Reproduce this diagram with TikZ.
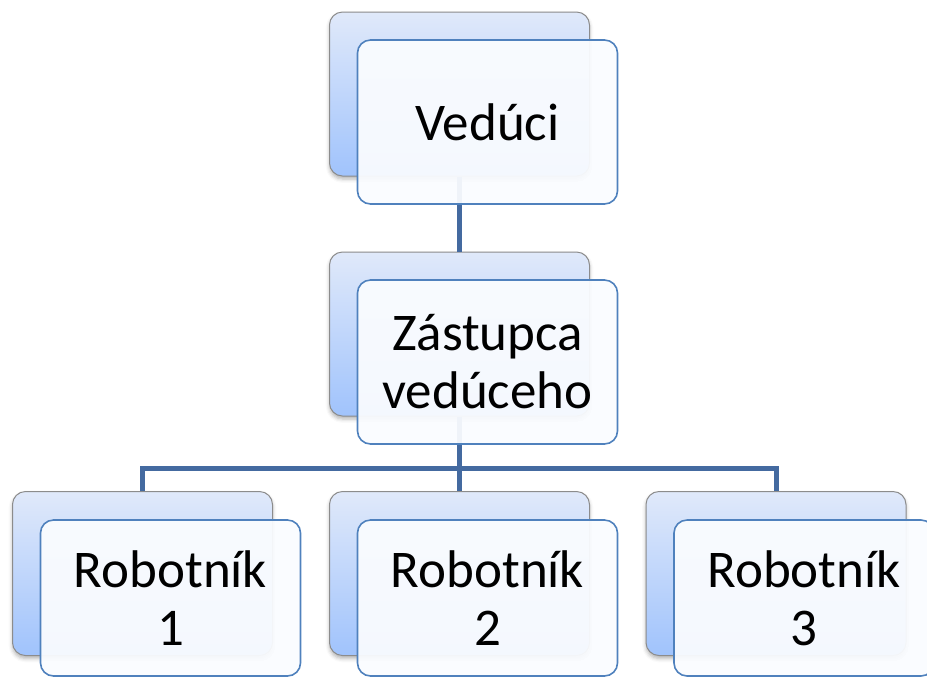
\documentclass[tikz,border=0pt]{standalone}
\usepackage{fontspec}
\setmainfont{Carlito}
\usetikzlibrary{shadows.blur,positioning,calc}
\definecolor{boxblue}{RGB}{79,129,189}
\definecolor{linkblue}{RGB}{68,106,160}
\definecolor{backtop}{RGB}{224,233,250}
\definecolor{backbot}{RGB}{160,195,252}
\definecolor{frontfill}{RGB}{250,252,255}

\begin{document}
\begin{tikzpicture}[x=0.5pt,y=-0.5pt]
\tikzstyle{every node}=[font=\fontsize{26.5}{29}\selectfont]
\tikzstyle{back}=[draw=black!45, line width=0.5pt, rounded corners=6.5pt,
	minimum width=130pt, minimum height=82pt, inner sep=0pt,
	top color=backtop, bottom color=backbot,
	blur shadow={shadow xshift=0pt, shadow yshift=-1.5pt, shadow opacity=30}]
\tikzstyle{front}=[draw=boxblue, line width=0.8pt, rounded corners=6.5pt,
	minimum width=130pt, minimum height=82pt, inner sep=0pt,
	fill=frontfill, fill opacity=0.94, text opacity=1, align=center]
\tikzstyle{link}=[draw=linkblue, line width=2.5pt]

	\useasboundingbox (0,0) rectangle (927,677);

	% back cards
	\node[back] (ved-b) at (459.5,94) {};
	\node[back] (zas-b) at (459.5,334) {};
	\foreach \i/\x in {1/142.5,2/459.5,3/776} {
		\node[back] (rob\i-b) at (\x,573.5) {};
	}

	% tree lines
	\coordinate (fork) at (459.5,468);
	\draw[link] (ved-b.south) -- (zas-b.north);
	\draw[link] (zas-b.south) -- (fork);
	\foreach \i in {1,2,3} {
		\draw[link] (fork) -| (rob\i-b.north);
	}

	% front cards with the names
	\node[front] (ved) at ([xshift=14pt,yshift=-14pt]ved-b.center) {Vedúci};
	\node[front] (zas) at ([xshift=14pt,yshift=-14pt]zas-b.center) {Zástupca\\vedúceho};
	\foreach \i in {1,2,3} {
		\node[front, minimum height=78pt] (rob\i) at ([xshift=14pt,yshift=-12.25pt]rob\i-b.center) {Robotník\\\i};
	}
\end{tikzpicture}
\end{document}
